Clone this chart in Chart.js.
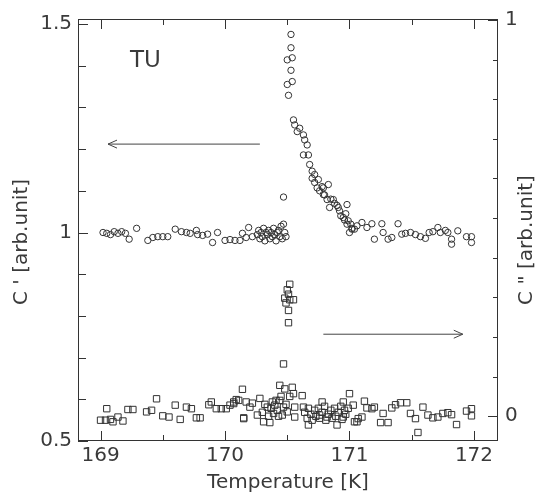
<!DOCTYPE html>
<html>
<head>
<meta charset="utf-8">
<script src="https://cdn.jsdelivr.net/npm/chart.js@4"></script>
<style>
  html, body { margin: 0; padding: 0; background: #fff; }
  #wrap { width: 541px; height: 499px; }
</style>
</head>
<body>
<div id="wrap"><canvas id="c"></canvas></div>
<script>
// C' (circles, left axis) and C'' (squares, right axis) vs temperature
const circleT = [169.02,169.05,169.08,169.11,169.14,169.17,169.20,169.23,169.29,169.38,169.42,169.46,169.50,169.54,169.60,169.65,169.69,169.72,169.77,169.78,169.82,169.86,169.90,169.94,170.00,170.04,170.08,170.12,170.14,170.17,170.19,170.22,
  170.26,170.27,170.28,170.29,170.30,170.31,170.32,170.33,170.34,170.35,170.36,170.37,170.38,170.39,170.40,170.41,170.42,170.43,170.44,170.45,170.46,170.47,170.47,170.48,170.49,
  170.50,170.50,170.51,170.53,170.53,170.53,170.54,170.54,
  170.55,170.56,170.58,170.60,170.63,170.63,170.64,170.66,170.67,170.68,170.70,170.70,170.72,170.72,170.74,170.75,170.76,170.78,170.79,170.79,170.80,170.82,170.83,170.84,170.85,170.87,170.88,170.90,170.91,170.92,170.93,170.95,170.96,170.97,170.98,170.98,170.99,171.00,171.01,171.02,171.02,
  171.04,171.06,171.10,171.14,171.18,171.20,171.26,171.27,171.31,171.34,171.39,171.42,171.45,171.49,171.53,171.57,171.61,171.64,171.67,171.71,171.73,171.77,171.79,171.82,171.82,171.87,171.94,171.98,171.98];
const circleC = [1.000,0.998,0.995,1.002,0.998,1.002,0.998,0.984,1.010,0.981,0.988,0.990,0.990,0.990,1.008,1.002,1.000,0.998,1.005,0.995,0.993,0.996,0.976,1.000,0.981,0.983,0.981,0.981,0.998,0.988,1.012,0.990,
  0.995,1.005,0.985,1.000,0.990,1.010,0.980,1.000,0.995,1.005,0.985,1.000,0.990,1.010,0.995,0.980,1.000,1.005,0.990,1.015,0.985,1.020,1.085,1.000,0.990,
  1.414,1.355,1.329,1.475,1.443,1.389,1.419,1.362,
  1.270,1.258,1.242,1.250,1.234,1.186,1.222,1.210,1.186,1.163,1.147,1.130,1.139,1.120,1.107,1.127,1.100,1.110,1.107,1.091,1.090,1.079,1.115,1.060,1.080,1.079,1.070,1.065,1.060,1.052,1.040,1.036,1.030,1.045,1.067,1.020,1.028,1.000,1.020,1.008,1.010,
  1.008,1.016,1.024,1.012,1.021,0.984,1.021,1.000,0.984,0.988,1.021,0.996,0.998,1.000,0.995,0.990,0.986,1.000,1.002,1.012,1.000,1.005,1.000,0.984,0.972,1.004,0.990,0.990,0.976];

const squareT = [169.00,169.04,169.05,169.08,169.10,169.14,169.18,169.22,169.26,169.37,169.41,169.45,169.50,169.55,169.60,169.64,169.69,169.73,169.77,169.80,169.87,169.89,169.93,169.97,170.01,170.04,170.07,170.07,170.09,170.11,170.14,170.15,170.15,170.17,170.20,170.22,
  170.26,170.28,170.30,170.31,170.32,170.34,170.35,170.36,170.37,170.38,170.39,170.40,170.41,170.42,170.43,170.44,170.44,170.45,170.46,170.47,170.47,170.48,170.48,170.49,170.49,170.50,170.50,170.51,170.51,170.51,170.52,170.52,170.52,170.54,170.55,170.55,170.56,170.56,
  170.62,170.63,170.64,170.66,170.67,170.67,170.69,170.70,170.72,170.73,170.75,170.76,170.76,170.78,170.78,170.80,170.81,170.82,170.83,170.85,170.86,170.88,170.89,170.90,170.91,170.93,170.94,170.95,170.95,170.96,170.97,170.99,
  171.00,171.03,171.04,171.06,171.07,171.10,171.12,171.14,171.18,171.20,171.25,171.27,171.31,171.34,171.37,171.41,171.46,171.49,171.53,171.55,171.59,171.63,171.67,171.71,171.75,171.79,171.82,171.86,171.94,171.98,171.98];
const squareC = [-0.010,-0.010,0.019,-0.008,-0.014,-0.002,-0.012,0.017,0.017,0.011,0.015,0.044,0.001,-0.002,0.028,-0.008,0.023,0.019,-0.004,-0.004,0.029,0.036,0.019,0.019,0.019,0.028,0.036,0.032,0.042,0.040,0.068,-0.004,-0.006,0.036,0.023,0.033,
  0.003,0.045,0.010,-0.014,0.030,0.023,0.000,-0.016,0.020,0.036,0.007,0.028,0.040,0.015,0.000,0.078,0.040,0.050,0.003,0.023,0.132,0.069,0.298,0.030,0.286,0.011,0.319,0.308,0.267,0.236,0.333,0.294,0.050,0.073,0.057,0.294,0.023,-0.002,
  0.052,0.023,0.010,-0.005,0.020,-0.022,0.005,-0.010,0.015,0.000,0.020,-0.005,0.003,0.010,0.036,0.025,-0.010,-0.002,0.005,0.015,-0.005,0.020,0.000,-0.022,0.010,0.025,-0.008,0.036,-0.002,0.015,0.005,0.020,
  0.057,0.028,-0.014,-0.014,-0.006,-0.002,0.038,0.021,0.019,0.023,-0.016,0.007,-0.016,0.021,0.029,0.034,0.034,0.007,-0.006,-0.041,0.023,0.003,-0.004,-0.002,0.007,0.009,0.004,-0.021,0.013,0.019,0.001];

// axes
const xLabelTicks = [169, 170, 171, 172];
const xMinorTicks = [169.5, 170.5, 171.5];
const leftLabelTicks = [0.5, 1, 1.5];
const leftMinorTicks = [0.6, 0.7, 0.8, 0.9, 1.1, 1.2, 1.3, 1.4];
const rightLabelTicks = [0, 1];
const rightMinorTicks = [0.1, 0.2, 0.3, 0.4, 0.5, 0.6, 0.7, 0.8, 0.9];

const INK = '#333';
const TXT = '#3a3a3a';
const FONT = 'DejaVu Sans';

const toPts = (xs, ys) => xs.map((t, i) => ({x: t, y: ys[i]}));

function arrow(ctx, x0, y0, x1, y1) {
  const dir = Math.sign(x1 - x0);
  ctx.beginPath();
  ctx.moveTo(x0, y0); ctx.lineTo(x1, y1);
  ctx.moveTo(x1 - dir * 9, y1 - 4); ctx.lineTo(x1, y1); ctx.lineTo(x1 - dir * 9, y1 + 4);
  ctx.stroke();
}

const frame = {
  id: 'frame',
  afterDraw(chart) {
    const {ctx, chartArea: a, scales: {x, y, y2}} = chart;
    ctx.save();
    ctx.strokeStyle = INK;
    ctx.lineWidth = 1;
    ctx.strokeRect(a.left + 0.5, a.top + 0.5, a.width - 1, a.height - 1);

    ctx.beginPath();
    const xt = (v, len) => {
      const p = Math.round(x.getPixelForValue(v)) + 0.5;
      ctx.moveTo(p, a.bottom); ctx.lineTo(p, a.bottom - len);
      ctx.moveTo(p, a.top); ctx.lineTo(p, a.top + len);
    };
    xLabelTicks.forEach(v => xt(v, 10));
    xMinorTicks.forEach(v => xt(v, 6));
    const lt = (v, len) => {
      const p = Math.round(y.getPixelForValue(v)) + 0.5;
      ctx.moveTo(a.left, p); ctx.lineTo(a.left + len, p);
    };
    leftLabelTicks.forEach(v => lt(v, 10));
    leftMinorTicks.forEach(v => lt(v, 8));
    const rt = (v, len) => {
      const p = Math.round(y2.getPixelForValue(v)) + 0.5;
      ctx.moveTo(a.right, p); ctx.lineTo(a.right - len, p);
    };
    rightLabelTicks.forEach(v => rt(v, 10));
    rightMinorTicks.forEach(v => rt(v, 5));
    ctx.stroke();

    // arrows showing which axis each set belongs to
    ctx.strokeStyle = '#444';
    const ly = y.getPixelForValue(1.212);
    arrow(ctx, x.getPixelForValue(170.28), ly, x.getPixelForValue(169.06), ly);
    const ry = y2.getPixelForValue(0.207);
    arrow(ctx, x.getPixelForValue(170.79), ry, x.getPixelForValue(171.91), ry);

    ctx.fillStyle = TXT;
    ctx.font = '23px "' + FONT + '"';
    ctx.textAlign = 'left';
    ctx.textBaseline = 'alphabetic';
    ctx.fillText('TU', x.getPixelForValue(169.237), y.getPixelForValue(1.398));

    ctx.font = '20px "' + FONT + '"';
    ctx.textAlign = 'center';
    ctx.textBaseline = 'middle';
    ctx.save();
    ctx.translate(22, 242); ctx.rotate(-Math.PI / 2);
    ctx.fillText("C ' [arb.unit]", 0, 0);
    ctx.restore();
    ctx.save();
    ctx.translate(527, 240); ctx.rotate(-Math.PI / 2);
    ctx.fillText('C " [arb.unit]', 0, 0);
    ctx.restore();
    ctx.restore();
  }
};

new Chart(document.getElementById('c'), {
  type: 'scatter',
  data: {
    datasets: [
      {
        label: "C'",
        data: toPts(circleT, circleC),
        yAxisID: 'y',
        pointStyle: 'circle',
        pointRadius: 3.2,
        borderWidth: 1,
        borderColor: INK,
        backgroundColor: 'rgba(0,0,0,0)'
      },
      {
        label: "C''",
        data: toPts(squareT, squareC),
        yAxisID: 'y2',
        pointStyle: 'rect',
        pointRadius: 4.5,
        borderWidth: 1,
        borderColor: INK,
        backgroundColor: 'rgba(0,0,0,0)'
      }
    ]
  },
  options: {
    responsive: true,
    maintainAspectRatio: false,
    animation: false,
    layout: { padding: { top: 15, left: 0, right: 0, bottom: 0 } },
    plugins: { legend: { display: false }, tooltip: { enabled: false } },
    scales: {
      x: {
        type: 'linear',
        position: 'bottom',
        min: 168.819,
        max: 172.193,
        grid: { display: false, drawTicks: false },
        border: { display: false },
        afterBuildTicks: s => { s.ticks = xLabelTicks.map(v => ({value: v})); },
        afterFit: s => { s.height = 58; },
        ticks: { color: TXT, padding: 3, font: { family: FONT, size: 20 }, callback: v => String(v) },
        title: { display: true, text: 'Temperature [K]', color: TXT, font: { family: FONT, size: 20 }, padding: { top: 0, bottom: 4 } }
      },
      y: {
        type: 'linear',
        position: 'left',
        min: 0.5,
        max: 1.512,
        grid: { display: false, drawTicks: false },
        border: { display: false },
        afterBuildTicks: s => { s.ticks = leftLabelTicks.map(v => ({value: v})); },
        afterFit: s => { s.width = 78; },
        ticks: { color: TXT, padding: 6, font: { family: FONT, size: 20 }, callback: v => String(v) }
      },
      y2: {
        type: 'linear',
        position: 'right',
        min: -0.0625,
        max: 1.0025,
        grid: { display: false, drawTicks: false },
        border: { display: false },
        afterBuildTicks: s => { s.ticks = rightLabelTicks.map(v => ({value: v})); },
        afterFit: s => { s.width = 43; },
        ticks: { color: TXT, padding: 7, font: { family: FONT, size: 20 }, callback: v => String(v) }
      }
    }
  },
  plugins: [frame]
});
</script>
</body>
</html>
